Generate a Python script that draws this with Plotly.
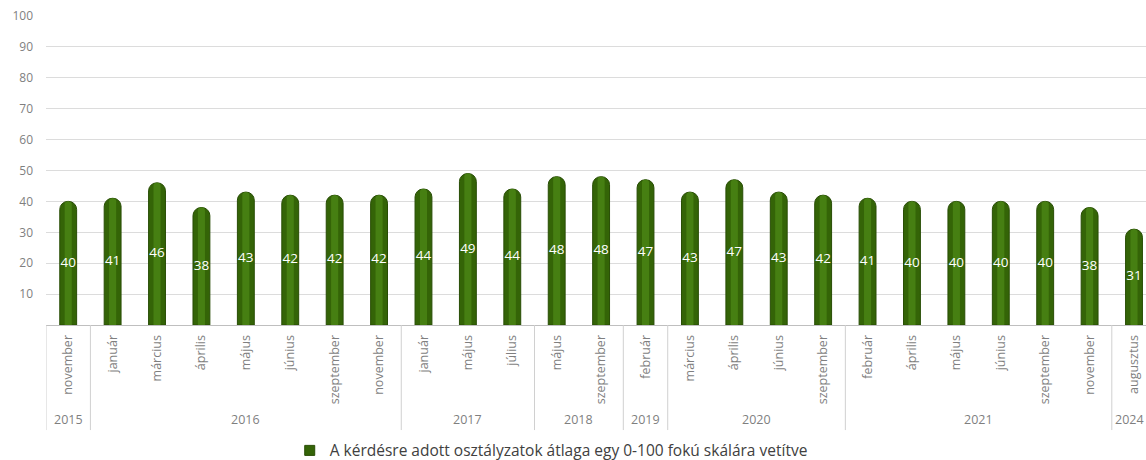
import plotly.graph_objects as go

months = ["november",
          "január", "március", "április", "május", "június", "szeptember", "november",
          "január", "május", "július",
          "május", "szeptember",
          "február",
          "március", "április", "június", "szeptember",
          "február", "április", "május", "június", "szeptember", "november",
          "augusztus"]
years = ["2015"] + ["2016"] * 7 + ["2017"] * 3 + ["2018"] * 2 + ["2019"] + ["2020"] * 4 + ["2021"] * 6 + ["2024"]
values = [40, 41, 46, 38, 43, 42, 42, 42, 44, 49, 44, 48, 48, 47, 43, 47, 43, 42, 41, 40, 40, 40, 40, 38, 31]
series_name = "A kérdésre adott osztályzatok átlaga egy 0-100 fokú skálára vetítve"

FONT = "Open Sans"
GRAY = "#7f7f7f"
GREEN = "#346407"
GREEN_HI = "#4a8414"

idx = list(range(len(values)))
X_MAX = 24.27

fig = go.Figure()
# cylinder body
fig.add_trace(go.Bar(
    x=idx, y=values, name=series_name, width=0.38,
    marker=dict(color=GREEN, line=dict(color="#284d05", width=1), cornerradius=8),
    showlegend=False, hoverinfo="skip",
))
# cylinder highlight
fig.add_trace(go.Bar(
    x=idx, y=values, width=0.16,
    marker=dict(color=GREEN_HI, line=dict(width=0), cornerradius=3),
    showlegend=False, hoverinfo="skip", opacity=0.85,
))
# value labels at the middle of each bar
fig.add_trace(go.Scatter(
    x=idx, y=[v / 2 for v in values], mode="text",
    text=[str(v) for v in values], textposition="middle center",
    textfont=dict(color="white", size=13.5, family=FONT),
    showlegend=False, hoverinfo="skip",
))
# legend entry (square swatch)
fig.add_trace(go.Scatter(
    x=[None], y=[None], mode="markers", name=series_name,
    marker=dict(symbol="square", size=10, color=GREEN, line=dict(color="#284d05", width=1)),
    showlegend=True,
))

# group boundaries & year labels
groups = []
start = 0
for i in range(1, len(years) + 1):
    if i == len(years) or years[i] != years[start]:
        groups.append((start, i - 1, years[start]))
        start = i

shapes = []
annotations = []
for (a, b, y) in groups:
    shapes.append(dict(type="line", xref="x", yref="paper", x0=a - 0.5, x1=a - 0.5,
                       y0=0, y1=-0.34, line=dict(color="#d0d0d0", width=1)))
    center = (a + b) / 2
    if center + 0.4 > X_MAX:
        # keep the last (clipped) group label fully inside the page
        ann = dict(x=1.0, xref="paper", xanchor="right")
    else:
        ann = dict(x=center, xref="x", xanchor="center")
    ann.update(y=-0.307, yref="paper", text=y, showarrow=False,
               font=dict(size=12.5, color=GRAY, family=FONT), yanchor="middle")
    annotations.append(ann)

fig.update_layout(
    width=1146, height=460,
    margin=dict(l=46, r=0, t=16, b=135, autoexpand=False),
    paper_bgcolor="white", plot_bgcolor="white",
    barmode="overlay",
    font=dict(family=FONT, color=GRAY),
    xaxis=dict(range=[-0.5, X_MAX], tickmode="array", tickvals=idx, ticktext=months,
               tickangle=-90, tickfont=dict(size=12.5, color=GRAY, family=FONT),
               showline=True, linecolor="#bfbfbf", linewidth=1, showgrid=False,
               ticks="", automargin=False, ticklabelstandoff=4),
    yaxis=dict(range=[0, 100], tickvals=list(range(10, 101, 10)), showgrid=True,
               gridcolor="#dcdcdc", gridwidth=1, zeroline=False, showline=False,
               tickfont=dict(size=12, color=GRAY, family=FONT), ticklabelstandoff=12,
               automargin=False),
    showlegend=True,
    legend=dict(orientation="h", xref="container", x=0.481, xanchor="center",
                yref="container", y=0.02, yanchor="middle",
                font=dict(size=15.5, color="#404040", family=FONT), itemwidth=30),
    shapes=shapes, annotations=annotations,
)

fig.write_html("out.html", config={"displayModeBar": False},
               post_script="document.body.style.margin='0';")
